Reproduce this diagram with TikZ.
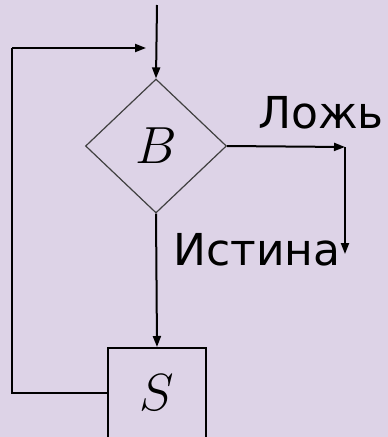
\documentclass[tikz,border=0pt]{standalone}
\usepackage{fontspec}
\setmainfont{DejaVu Sans}
\usetikzlibrary{shapes.geometric,arrows.meta}
\definecolor{bg}{RGB}{221,211,231}
\newcommand{\myvarlabel}[1]{\scalebox{2.1}{\Huge$#1$}}
\begin{document}
\begin{tikzpicture}[x=1pt,y=-1pt,
  conn/.style={line width=2pt,-{Triangle[length=11pt,width=8pt]}},
  plain/.style={line width=2pt},
  lbl/.style={font=\fontsize{44}{50}\selectfont,inner sep=0},
  mth/.style={inner sep=0}]
\fill[bg] (0,0) rectangle (388,437);
\useasboundingbox (0,0) rectangle (388,437);
\node[diamond,draw=black!75,line width=1.2pt,minimum width=141pt,minimum height=134pt,inner sep=0] (d) at (156,146) {};
\node[rectangle,draw=black,line width=2pt,minimum width=98pt,minimum height=90pt,inner sep=0] (s) at (157,393) {};
\node[mth] (bl) at (d.center) {\myvarlabel{B}};
\node[mth] (sl) at (s.center) {\myvarlabel{S}};
\coordinate (top) at (157,5);
\coordinate (lc) at (12,48);
\coordinate (le) at (146,48);
\coordinate (rc) at (345,147);
\coordinate (rb) at (345,254);
\draw[conn] (top) -- (d.north);
\draw[plain] (s.west) -| (lc);
\draw[conn] (lc) -- (le);
\draw[conn] (d.east) -- (rc);
\draw[conn] (rc) -- (rb);
\draw[conn] (d.south) -- (s.north);
\node[lbl] (f) at (321,113) {Ложь};
\node[lbl] (t) at (257,250) {Истина};
\end{tikzpicture}
\end{document}
